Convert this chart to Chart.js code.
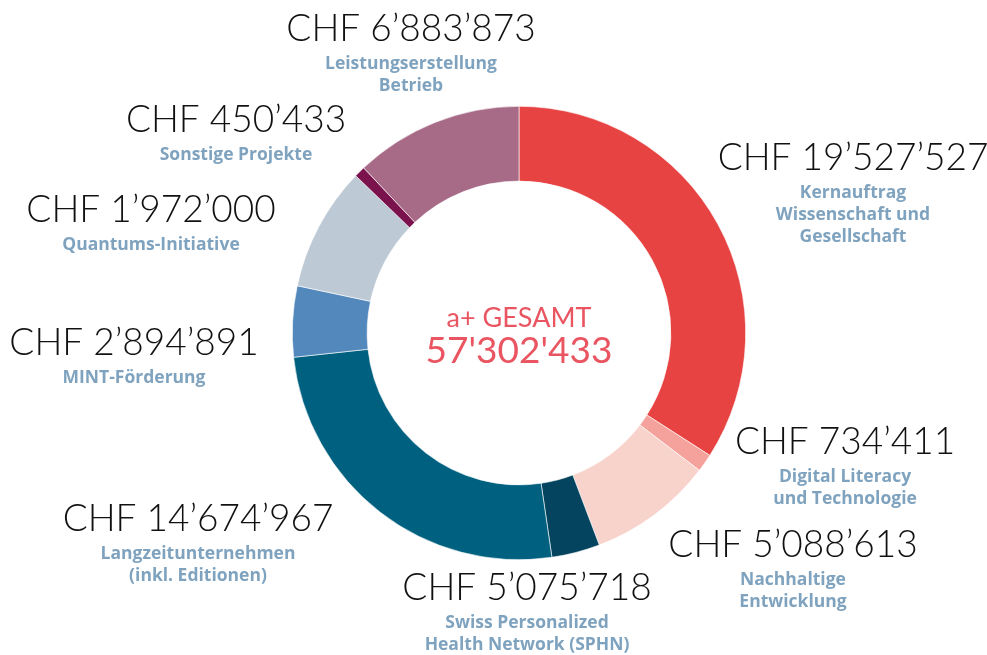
<!DOCTYPE html>
<html>
<head>
<meta charset="utf-8">
<script src="https://cdn.jsdelivr.net/npm/chart.js@4.4.1/dist/chart.umd.min.js"></script>
<style>
  html, body { margin: 0; padding: 0; background: #fff; }
  #wrap { width: 987px; height: 655px; position: relative; }
</style>
</head>
<body>
<div id="wrap"><canvas id="c" width="987" height="655"></canvas></div>
<script>
// segment order clockwise from 12 o'clock, as drawn
const sliceValues = [19527527, 734411, 5088613, 1972000, 14674967, 2894891, 5075718, 450433, 6883873];
const sliceColors = ['#E84343', '#F4A29B', '#F8D3CC', '#05445E', '#00607F', '#5388BC', '#BDC9D5', '#7A124D', '#A86B87'];

// label texts as printed round the ring
const amountLabels = ['CHF 19’527’527', 'CHF 734’411', 'CHF 5’088’613', 'CHF 5’075’718', 'CHF 14’674’967',
  'CHF 2’894’891', 'CHF 1’972’000', 'CHF 450’433', 'CHF 6’883’873'];
const nameLabels = [
  ['Kernauftrag', 'Wissenschaft und', 'Gesellschaft'],
  ['Digital Literacy', 'und Technologie'],
  ['Nachhaltige', 'Entwicklung'],
  ['Swiss Personalized', 'Health Network (SPHN)'],
  ['Langzeitunternehmen', '(inkl. Editionen)'],
  ['MINT-Förderung'],
  ['Quantums-Initiative'],
  ['Sonstige Projekte'],
  ['Leistungserstellung', 'Betrieb']
];
const totalTitle = 'a+ GESAMT';
const totalValue = "57'302'433";

// label anchor offsets from the ring centre (layout only)
const labelPos = [
  [334, -175], [326, 109], [274, 212], [8, 255], [-321, 186],
  [-385, 10], [-368, -123], [-283, -213], [-108, -304]
];

const ringLabels = {
  id: 'ringLabels',
  afterDraw(chart) {
    const ctx = chart.ctx;
    const arc = chart.getDatasetMeta(0).data[0];
    const cx = arc.x, cy = arc.y;
    ctx.save();
    ctx.textAlign = 'center';
    ctx.textBaseline = 'middle';
    amountLabels.forEach((t, i) => {
      const x = cx + labelPos[i][0], y = cy + labelPos[i][1];
      ctx.fillStyle = '#111';
      ctx.font = '300 37px Lato';
      ctx.fillText(t, x, y);
      ctx.fillStyle = '#7FA3BF';
      ctx.font = '700 17.5px "Open Sans"';
      nameLabels[i].forEach((n, j) => ctx.fillText(n, x, y + 35 + j * 22));
    });
    ctx.fillStyle = '#EA5562';
    ctx.font = '400 27px Lato';
    ctx.fillText(totalTitle, cx, cy - 15);
    ctx.font = '400 37px Lato';
    ctx.fillText(totalValue, cx, cy + 18);
    ctx.restore();
  }
};

new Chart(document.getElementById('c'), {
  type: 'doughnut',
  data: {
    labels: nameLabels.map(n => n.join(' ')),
    datasets: [{
      data: sliceValues,
      backgroundColor: sliceColors,
      borderColor: '#ffffff',
      borderWidth: 0.6
    }]
  },
  options: {
    responsive: false,
    animation: false,
    cutout: '67%',
    layout: { padding: { top: 106, bottom: 95, left: 51, right: 0 } },
    plugins: { legend: { display: false }, tooltip: { enabled: false } }
  },
  plugins: [ringLabels]
});
</script>
</body>
</html>
